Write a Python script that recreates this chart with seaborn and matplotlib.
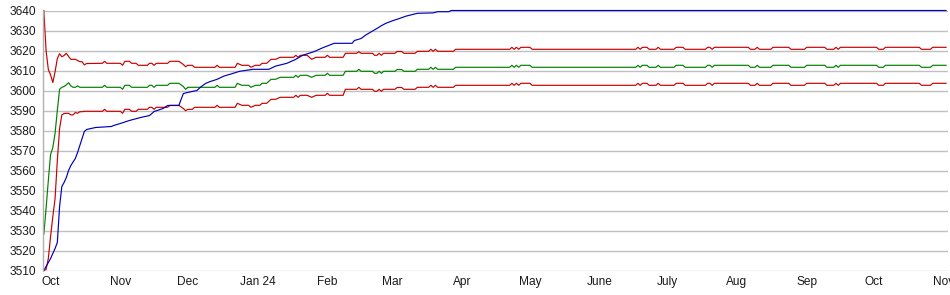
import matplotlib
matplotlib.use("Agg")
import matplotlib.pyplot as plt
import pandas as pd
import seaborn as sns

# ---------------- data (day offsets from 2023-10-01) ----------------
origin = "2023-10-01"

blue_day = [-3, -2, -1, 0, 2, 3, 4, 5, 6, 7, 8, 9, 11, 12, 14, 15, 16, 20, 27, 28,
            31, 35, 40, 44, 46, 50, 52, 57, 59, 62, 65, 67, 69, 71, 74, 77, 80, 84,
            90, 97, 100, 105, 109, 112, 117, 121, 126, 134, 135, 138, 140, 143, 145,
            147, 149, 152, 155, 158, 163, 170, 172, 177, 178, 398]
blue_val = [3510, 3512, 3514, 3516, 3521, 3524, 3542, 3552, 3554, 3556.5, 3560, 3562.5,
            3566, 3569, 3576, 3579.5, 3580.5, 3581.5, 3582, 3582.5, 3583.5, 3585, 3586.5,
            3587.5, 3589.5, 3591, 3592.5, 3592.5, 3598.5, 3599.3, 3600, 3602, 3603.6,
            3604.5, 3605.6, 3607.2, 3608.2, 3609.6, 3610.6, 3610.6, 3612.2, 3613.6,
            3615.6, 3617.6, 3619.4, 3621.4, 3623.6, 3623.6, 3625, 3626, 3627.7, 3629.7,
            3631, 3632.4, 3633.6, 3634.9, 3636, 3637.2, 3638.6, 3638.8, 3639.4, 3639.4,
            3640, 3640]

band_day = [-3, -2, -1, 0, 1, 2, 3, 4, 5, 6,
            7, 8, 9, 10, 11, 12, 13, 14, 15, 16,
            23, 24, 25, 31, 32, 33, 35, 36, 38, 39,
            43, 44, 45, 46, 47, 52, 53, 57, 59, 60,
            61, 63, 64, 73, 74, 75, 82, 83, 85, 88,
            89, 91, 93, 94, 96, 98, 100, 102, 108, 109,
            110, 111, 114, 116, 118, 122, 123, 124, 130, 131,
            136, 137, 138, 143, 144, 145, 146, 147, 148, 153,
            154, 156, 157, 162, 163, 168, 169, 170, 171, 172,
            179, 180, 204, 205, 206, 207, 208, 209, 213, 214,
            260, 261, 262, 263, 265, 266, 269, 270, 271, 277,
            278, 281, 282, 291, 292, 293, 294, 295, 310, 311,
            313, 314, 315, 320, 321, 328, 329, 335, 336, 344,
            345, 348, 349, 350, 351, 367, 368, 370, 371, 386,
            387, 391, 392, 398]

upper_val = [3640, 3620, 3610.5, 3607.8, 3604, 3609.4, 3616, 3618.4, 3616.9, 3617.5,
             3618.6, 3617, 3615.6, 3615.6, 3615.6, 3615, 3614.4, 3614.4, 3612.8, 3613.5,
             3613.6, 3614.6, 3613.6, 3613.6, 3612.6, 3614.6, 3614.6, 3613.6, 3613.6, 3612.6,
             3612.6, 3613.6, 3613.6, 3612.6, 3613.6, 3613.6, 3614.6, 3614.6, 3613, 3611.9,
             3612.6, 3612.6, 3611.6, 3611.6, 3612.6, 3611.6, 3611.6, 3613.6, 3612.6, 3612.6,
             3611.6, 3612.6, 3612.6, 3613.6, 3613.6, 3615.6, 3615.6, 3616.6, 3616.6, 3617.6,
             3616.6, 3617.6, 3617.6, 3615.6, 3616.6, 3616.6, 3617.6, 3616.6, 3616.6, 3618.6,
             3618.6, 3619.4, 3618.6, 3618.6, 3617.6, 3617.6, 3618.6, 3617.6, 3618.6, 3618.6,
             3619.5, 3619.5, 3618.6, 3618.6, 3619.6, 3619.6, 3620.6, 3619.6, 3620.6, 3619.6,
             3619.6, 3620.6, 3620.6, 3621.6, 3620.6, 3621.6, 3620.6, 3621.6, 3621.6, 3620.6,
             3620.6, 3621.6, 3620.6, 3621.6, 3621.6, 3620.6, 3620.6, 3621.6, 3620.6, 3620.6,
             3621.6, 3621.6, 3620.6, 3620.6, 3621.6, 3621.6, 3620.6, 3621.6, 3621.6, 3620.6,
             3620.6, 3621.6, 3620.6, 3620.6, 3621.6, 3621.6, 3620.6, 3620.6, 3621.6, 3621.6,
             3620.6, 3620.6, 3621.6, 3620.6, 3621.6, 3621.6, 3620.6, 3620.6, 3621.6, 3621.6,
             3620.6, 3620.6, 3621.6, 3621.6]

mid_val = [3528, 3541, 3555, 3568, 3571.5, 3578.6, 3590, 3600.6, 3601.6, 3602,
           3602.8, 3603.9, 3602.3, 3601.6, 3601.6, 3602.3, 3601.6, 3601.6, 3601.6, 3601.6,
           3601.6, 3602.6, 3601.6, 3601.6, 3600.6, 3602.6, 3602.6, 3601.6, 3601.6, 3601.6,
           3601.6, 3602.6, 3602.6, 3601.6, 3602.6, 3602.6, 3603.6, 3603.6, 3602, 3600.6,
           3601.6, 3601.6, 3601.6, 3601.6, 3602.6, 3601.6, 3601.6, 3603.6, 3602.6, 3602.6,
           3601.6, 3602.6, 3602.6, 3603.6, 3603.6, 3605.6, 3605.6, 3606.6, 3606.6, 3607.6,
           3606.6, 3607.6, 3607.6, 3606.6, 3607.6, 3607.6, 3608.6, 3607.6, 3607.6, 3609.6,
           3609.6, 3610.6, 3609.6, 3609.6, 3608.6, 3608.6, 3609.6, 3608.6, 3609.6, 3609.6,
           3610.5, 3610.5, 3609.6, 3609.6, 3610.6, 3610.6, 3611.6, 3610.6, 3611.6, 3610.6,
           3610.6, 3611.6, 3611.6, 3612.6, 3611.6, 3612.6, 3611.6, 3612.6, 3612.6, 3611.6,
           3611.6, 3612.6, 3611.6, 3612.6, 3612.6, 3611.6, 3611.6, 3612.6, 3611.6, 3611.6,
           3612.6, 3612.6, 3611.6, 3611.6, 3612.6, 3612.6, 3611.6, 3612.6, 3612.6, 3611.6,
           3611.6, 3612.6, 3611.6, 3611.6, 3612.6, 3612.6, 3611.6, 3611.6, 3612.6, 3612.6,
           3611.6, 3611.6, 3612.6, 3611.6, 3612.6, 3612.6, 3611.6, 3611.6, 3612.6, 3612.6,
           3611.6, 3611.6, 3612.6, 3612.6]

lower_val = [3510, 3510.5, 3516, 3527, 3537, 3546, 3565, 3581, 3587.8, 3588.5,
             3588.6, 3588.6, 3587.8, 3587.8, 3589, 3588.6, 3589.4, 3589.4, 3589.6, 3589.6,
             3589.6, 3590.6, 3589.6, 3589.6, 3588.6, 3590.6, 3590.6, 3589.6, 3589.6, 3590.6,
             3590.6, 3591.6, 3591.6, 3590.6, 3591.6, 3591.6, 3592.6, 3592.6, 3591, 3589.9,
             3590.6, 3590.6, 3591.6, 3591.6, 3592.6, 3591.6, 3591.6, 3593.6, 3592.6, 3592.6,
             3591.6, 3592.6, 3592.6, 3593.6, 3593.6, 3595.6, 3595.6, 3596.6, 3596.6, 3597.6,
             3596.6, 3597.6, 3597.6, 3596.6, 3597.6, 3597.6, 3598.6, 3597.6, 3597.6, 3600.6,
             3600.6, 3601.6, 3600.6, 3600.6, 3599.6, 3599.6, 3600.6, 3599.6, 3600.6, 3600.6,
             3601.5, 3601.5, 3600.6, 3600.6, 3601.6, 3601.6, 3602.6, 3601.6, 3602.6, 3601.6,
             3601.6, 3602.6, 3602.6, 3603.6, 3602.6, 3603.6, 3602.6, 3603.6, 3603.6, 3602.6,
             3602.6, 3603.6, 3602.6, 3603.6, 3603.6, 3602.6, 3602.6, 3603.6, 3602.6, 3602.6,
             3603.6, 3603.6, 3602.6, 3602.6, 3603.6, 3603.6, 3602.6, 3603.6, 3603.6, 3602.6,
             3602.6, 3603.6, 3602.6, 3602.6, 3603.6, 3603.6, 3602.6, 3602.6, 3603.6, 3603.6,
             3602.6, 3602.6, 3603.6, 3602.6, 3603.6, 3603.6, 3602.6, 3602.6, 3603.6, 3603.6,
             3602.6, 3602.6, 3603.6, 3603.6]

month_ticks = ["2023-10-01", "2023-11-01", "2023-12-01", "2024-01-01", "2024-02-01",
               "2024-03-01", "2024-04-01", "2024-05-01", "2024-06-01", "2024-07-01",
               "2024-08-01", "2024-09-01", "2024-10-01", "2024-11-01"]
month_labels = ["Oct", "Nov", "Dec", "Jan 24", "Feb", "Mar", "Apr", "May", "June",
                "July", "Aug", "Sep", "Oct", "Nov"]
y_ticks = [3510, 3520, 3530, 3540, 3550, 3560, 3570, 3580, 3590, 3600, 3610, 3620, 3630, 3640]

# ---------------- build frames ----------------
base = pd.Timestamp(origin)
def to_dates(days):
    return base + pd.to_timedelta(pd.Series(days, dtype=float), unit="D")

blue_df = pd.DataFrame({"date": to_dates(blue_day), "value": blue_val})
band_df = pd.DataFrame({"date": to_dates(band_day), "upper": upper_val,
                        "mid": mid_val, "lower": lower_val})

# ---------------- style ----------------
sns.set_style("white")
plt.rcParams["font.family"] = ["Liberation Sans", "DejaVu Sans"]

fig = plt.figure(figsize=(9.5, 2.95), dpi=100)
ax = fig.add_axes([42.7 / 950, 1 - 270.5 / 295, 905.8 / 950, 260 / 295])

RED = "#c80000"
GREEN = "#008000"
BLUE = "#0000b8"
LW = 0.85

sns.lineplot(data=band_df, x="date", y="upper", color=RED, lw=LW, ax=ax,
             estimator=None, sort=False, clip_on=False)
sns.lineplot(data=band_df, x="date", y="lower", color=RED, lw=LW, ax=ax,
             estimator=None, sort=False, clip_on=False)
sns.lineplot(data=band_df, x="date", y="mid", color=GREEN, lw=LW, ax=ax,
             estimator=None, sort=False, clip_on=False)
sns.lineplot(data=blue_df, x="date", y="value", color=BLUE, lw=LW, ax=ax,
             estimator=None, sort=False, clip_on=False)

ax.set_xlim(base + pd.Timedelta(days=-3.5), base + pd.Timedelta(days=399))
ax.set_ylim(y_ticks[0], y_ticks[-1])
ax.set_yticks(y_ticks)
ax.set_yticklabels([str(v) for v in y_ticks])
ax.set_xticks(pd.to_datetime(month_ticks))
ax.set_xticklabels(month_labels)
ax.set_xlabel("")
ax.set_ylabel("")

ax.yaxis.grid(True, color="#c0c0c0", lw=1.0)
ax.xaxis.grid(False)
ax.set_axisbelow(True)
for s in ["top", "right", "bottom"]:
    ax.spines[s].set_visible(False)
ax.spines["left"].set_color("#b0b0b0")
ax.spines["left"].set_linewidth(1.0)
ax.tick_params(axis="both", length=0, labelsize=8.6, colors="#1a1a1a")
ax.tick_params(axis="y", pad=5)
ax.tick_params(axis="x", pad=4)

fig.savefig("out.png", dpi=100)
